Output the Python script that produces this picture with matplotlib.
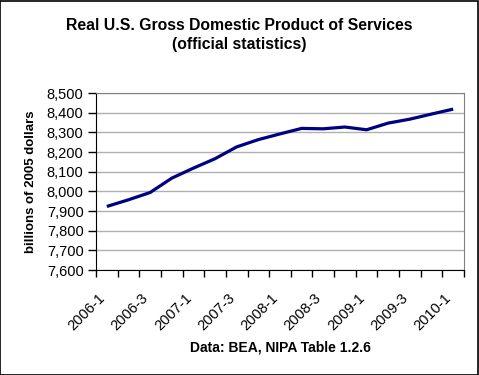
import matplotlib
matplotlib.use("Agg")
import matplotlib.pyplot as plt
from matplotlib.patches import Rectangle

plt.rcParams['font.family'] = ['Liberation Sans', 'DejaVu Sans']

# Quarterly real GDP of services, billions of 2005 dollars
quarters = ["2006-1", "2006-2", "2006-3", "2006-4",
            "2007-1", "2007-2", "2007-3", "2007-4",
            "2008-1", "2008-2", "2008-3", "2008-4",
            "2009-1", "2009-2", "2009-3", "2009-4",
            "2010-1"]
gdp_services = [7923, 7957, 7994, 8067, 8118, 8166, 8226, 8263,
                8292, 8320, 8318, 8327, 8313, 8347, 8367, 8393, 8418]
y_ticks = [7600, 7700, 7800, 7900, 8000, 8100, 8200, 8300, 8400, 8500]

fig = plt.figure(figsize=(4.79, 3.75), dpi=100)
ax = fig.add_axes([96/479, 1 - 270/375, (464 - 96)/479, (270 - 93)/375])

x = list(range(len(quarters)))
ax.plot(x, gdp_services, color="#000080", linewidth=2.3, solid_capstyle="butt")

ax.set_xlim(-0.5, len(quarters) - 0.5)
ax.set_ylim(7600, 8500)
ax.set_yticks(y_ticks)
ax.set_yticklabels([f"{v:,}" for v in y_ticks], fontsize=10.5)
ax.grid(axis="y", color="#b0b0b0", linewidth=1)
ax.set_axisbelow(True)

# tick marks between categories, labels on every other category
ax.set_xticks([i - 0.5 for i in range(len(quarters) + 1)])
ax.set_xticklabels([])
ax.tick_params(axis="x", length=5, direction="out", width=1)
ax.tick_params(axis="y", length=6, direction="out", width=1, pad=3)
for i in x[::2]:
    ax.annotate(quarters[i], xy=(i, 0), xycoords=("data", "axes fraction"),
                xytext=(-6.5, -15), textcoords="offset points",
                rotation=45, ha="right", va="top", rotation_mode="anchor",
                fontsize=10.5, annotation_clip=False)

for side in ["top", "right"]:
    ax.spines[side].set_color("#808080")
for side in ["left", "bottom"]:
    ax.spines[side].set_color("black")

ax.set_ylabel("billions of 2005 dollars", fontsize=9.5, fontweight="bold", labelpad=7)

fig.text(0.5, 1 - 35/375, "Real U.S. Gross Domestic Product of Services\n(official statistics)",
         ha="center", va="center", fontsize=11.3, fontweight="bold", linespacing=1.3)
fig.text(280/479, 1 - 347/375, "Data: BEA, NIPA Table 1.2.6",
         ha="center", va="center", fontsize=10, fontweight="bold")

fig.patches.append(Rectangle((0.001, 0.001), 0.997, 0.997, transform=fig.transFigure,
                             fill=False, edgecolor="black", linewidth=1.2))

fig.savefig("out.png", dpi=100)
